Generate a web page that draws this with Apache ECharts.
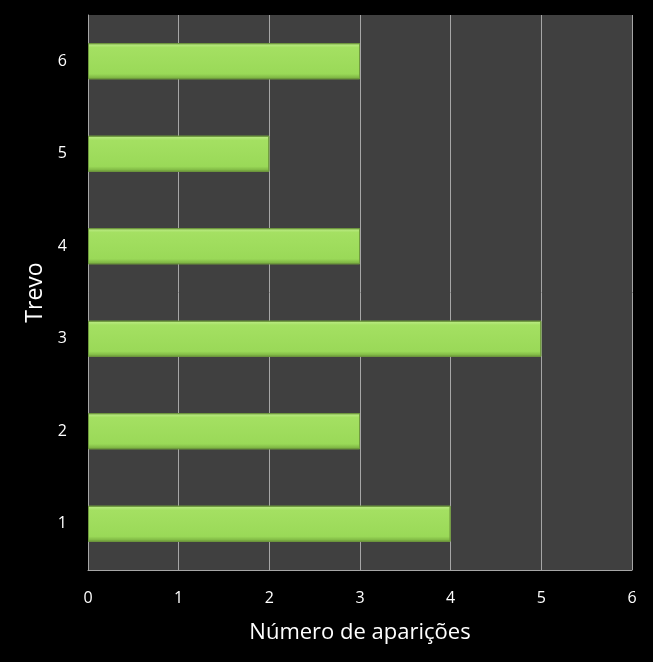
<!DOCTYPE html>
<html><head><meta charset="utf-8">
<script src="https://cdn.jsdelivr.net/npm/echarts@6/dist/echarts.min.js"></script>
<style>html,body{margin:0;padding:0;background:#000;}#c{width:653px;height:662px;}</style>
</head><body><div id="c"></div>
<script>
const categories = ['1','2','3','4','5','6'];
const values = [4,3,5,3,2,3];
const xTicks = [0,1,2,3,4,5,6];
const chart = echarts.init(document.getElementById('c'));
chart.setOption({
  backgroundColor:'#000',
  textStyle:{fontFamily:'Open Sans, Liberation Sans, sans-serif'},
  grid:{left:88,right:21,top:15,bottom:92,show:true,backgroundColor:'#404040',borderWidth:0},
  xAxis:{type:'value',min:xTicks[0],max:xTicks[xTicks.length-1],interval:1,
    name:'Número de aparições',nameLocation:'middle',nameGap:52,
    nameTextStyle:{color:'#fff',fontSize:22},
    axisLine:{show:true,lineStyle:{color:'#a6a6a6',width:1}},
    axisTick:{show:false},
    axisLabel:{color:'#fff',fontSize:16,margin:20},
    splitLine:{show:true,lineStyle:{color:'#a6a6a6',width:1}}},
  yAxis:{type:'category',data:categories,
    name:'Trevo',nameLocation:'middle',nameGap:40,nameRotate:90,
    nameTextStyle:{color:'#fff',fontSize:23},
    axisLine:{show:true,lineStyle:{color:'#a6a6a6',width:1}},
    axisTick:{show:false},
    axisLabel:{color:'#fff',fontSize:16,margin:21},
    splitLine:{show:false}},
  series:[{type:'bar',data:values,barWidth:'39%',
    itemStyle:{
      color:new echarts.graphic.LinearGradient(0,0,0,1,[
        {offset:0,color:'#c2ee8e'},{offset:0.12,color:'#a4e062'},
        {offset:0.85,color:'#9ad958'},{offset:1,color:'#74a83c'}]),
      borderColor:'#6f9a3e',borderWidth:1}}]
});
</script></body></html>
